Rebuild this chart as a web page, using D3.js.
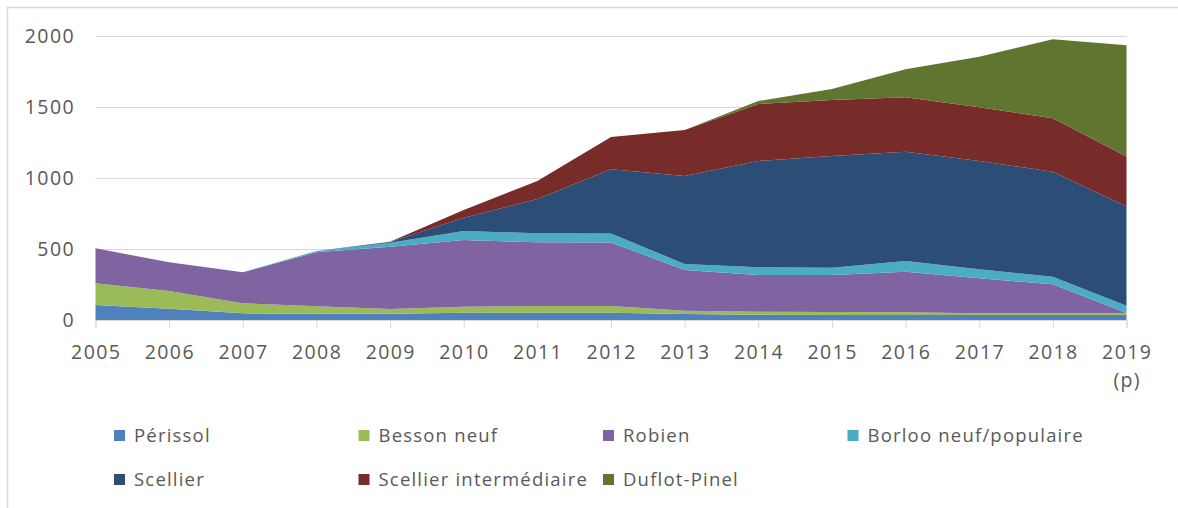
<!doctype html>

<html lang="fr">
<head>
  <meta charset="utf-8">
  <title>Dispositifs d'investissement locatif</title>
  <script src="https://d3js.org/d3.v7.min.js"></script>
  <style>
    body { margin: 0; background: #fff; }
    text { font-family: 'Open Sans', sans-serif; fill: #595959; }
  </style>
</head>

<body>
  <div id="chart"></div>
  <script type="text/javascript">

      //canvas size
      var width = 1178, height = 508;

      //data
      var years = [2005, 2006, 2007, 2008, 2009, 2010, 2011, 2012, 2013, 2014, 2015, 2016, 2017, 2018, 2019];
      var yearLabels = ['2005','2006','2007','2008','2009','2010','2011','2012','2013','2014','2015','2016','2017','2018','2019'];
      var yTicks = [0, 500, 1000, 1500, 2000];

      var perissol    = [105, 80, 47, 44, 44, 51, 51, 51, 42, 37, 35, 35, 35, 35, 35];
      var besson      = [153, 124, 71, 52, 33, 43, 48, 48, 23, 21, 21, 19, 12, 12, 12];
      var robien      = [247, 202, 218, 381, 439, 469, 448, 447, 287, 259, 261, 286, 247, 204, 2];
      var borloo      = [0, 0, 0, 9, 28, 64, 64, 64, 42, 54, 51, 75, 63, 54, 52];
      var scellier    = [0, 0, 0, 0, 5, 93, 241, 452, 620, 749, 787, 770, 763, 739, 699];
      var scellierInt = [0, 0, 0, 0, 2, 55, 127, 226, 324, 401, 394, 383, 378, 376, 352];
      var duflot      = [0, 0, 0, 0, 0, 0, 0, 0, 0, 21, 78, 197, 356, 557, 782];

      var seriesNames = ['Périssol','Besson neuf','Robien','Borloo neuf/populaire','Scellier','Scellier intermédiaire','Duflot-Pinel'];
      var seriesValues = [perissol, besson, robien, borloo, scellier, scellierInt, duflot];
      var colors = ['#4f81bd','#9bbb59','#8064a2','#4bacc6','#2c4d75','#772c2a','#5f7530'];

      //table of rows for d3.stack
      var table = years.map(function(y, i) {
        var row = { year: y };
        seriesNames.forEach(function(n, j) { row[n] = seriesValues[j][i]; });
        return row;
      });

      var svg = d3.select('#chart')
                  .append('svg')
                  .attr('width', width)
                  .attr('height', height);

      //light frame of the chart area (only left and top are inside the picture)
      svg.append('path')
         .attr('d', 'M7.5,' + height + 'V7.5H' + width)
         .attr('fill', 'none')
         .attr('stroke', '#d9d9d9')
         .attr('stroke-width', 1.5);

      var x = d3.scaleLinear()
                .domain([2005, 2019])
                .range([95.5, 1126.5]);

      var y = d3.scaleLinear()
                .domain([0, 2000])
                .range([320, 36]);

      //gridlines
      svg.append('g')
         .selectAll('line')
         .data(yTicks)
         .enter()
         .append('line')
         .attr('x1', x(2005))
         .attr('x2', x(2019))
         .attr('y1', function(d) { return Math.round(y(d)) + 0.5; })
         .attr('y2', function(d) { return Math.round(y(d)) + 0.5; })
         .attr('stroke', '#d9d9d9')
         .attr('stroke-width', 1);

      //stacked areas
      var stack = d3.stack().keys(seriesNames);
      var layers = stack(table);

      var area = d3.area()
                   .x(function(d) { return x(d.data.year); })
                   .y0(function(d) { return y(d[0]); })
                   .y1(function(d) { return y(d[1]); });

      svg.append('g')
         .selectAll('path')
         .data(layers)
         .enter()
         .append('path')
         .attr('d', area)
         .attr('fill', function(d, i) { return colors[i]; });

      //x axis: tick marks under the baseline
      var xAxis = d3.axisBottom(x)
                    .tickValues(years)
                    .tickSize(8)
                    .tickFormat('');

      var gx = svg.append('g')
                  .attr('transform', 'translate(0,' + y(0) + ')')
                  .call(xAxis);
      gx.select('.domain').attr('stroke', '#d9d9d9');
      gx.selectAll('.tick line').attr('stroke', '#d9d9d9');

      //year labels
      svg.append('g')
         .selectAll('text')
         .data(yearLabels)
         .enter()
         .append('text')
         .attr('x', function(d, i) { return x(years[i]) + 0.7; })
         .attr('y', 359)
         .attr('text-anchor', 'middle')
         .style('font-size', '19.5px')
         .style('letter-spacing', '1.4px')
         .text(function(d) { return d; });

      //projection marker under the last year
      svg.append('text')
         .attr('x', x(2019) + 0.7)
         .attr('y', 387)
         .attr('text-anchor', 'middle')
         .style('font-size', '19.5px')
         .style('letter-spacing', '1.4px')
         .text('(p)');

      //y labels
      svg.append('g')
         .selectAll('text')
         .data(yTicks)
         .enter()
         .append('text')
         .attr('x', 75)
         .attr('y', function(d) { return y(d) + 7; })
         .attr('text-anchor', 'end')
         .style('font-size', '19.5px')
         .style('letter-spacing', '1.4px')
         .text(function(d) { return d; });

      //legend, 4 entries per row
      var legend = svg.selectAll('.legend')
                      .data(seriesNames)
                      .enter()
                      .append('g')
                      .attr('class', 'legend')
                      .attr('transform', function(d, i) {
                        return 'translate(' + (114 + (i % 4) * 244.5) + ',' + (430 + Math.floor(i / 4) * 44) + ')';
                      });

      legend.append('rect')
            .attr('width', 11)
            .attr('height', 11)
            .attr('fill', function(d, i) { return colors[i]; });

      legend.append('text')
            .attr('x', 20)
            .attr('y', 12)
            .style('font-size', '18.5px')
            .style('letter-spacing', '1.2px')
            .text(function(d) { return d; });

  </script>
</body>
</html>
